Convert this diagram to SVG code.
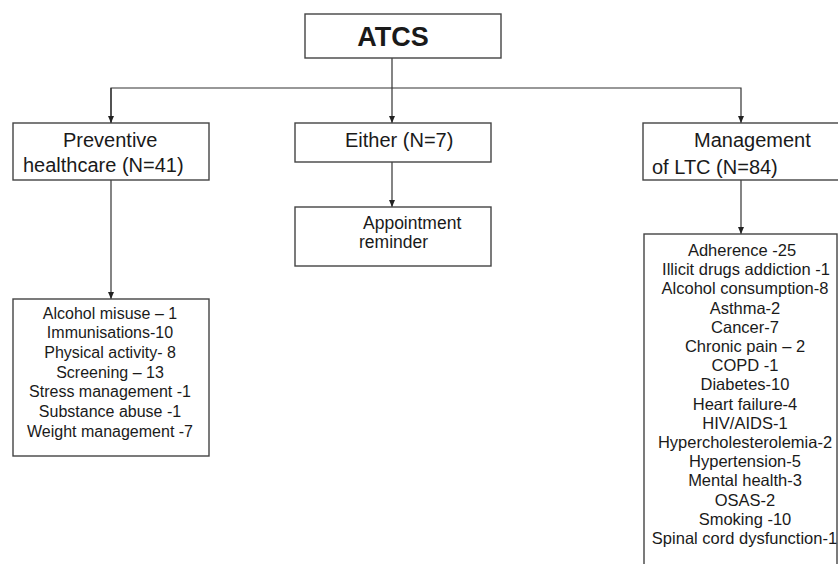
<svg xmlns="http://www.w3.org/2000/svg" width="838" height="564" viewBox="0 0 838 564">
<style>
.box{fill:#fff;stroke:#444;stroke-width:1.4}
.t{font-family:"Liberation Sans",Arial,sans-serif;fill:#1a1a1a}
.h{font-size:20px}
.s{font-size:16px}
.m{font-size:16.5px}
.c{text-anchor:middle}
.ln{stroke:#333;stroke-width:1.2;fill:none}
</style>
<defs>
<marker id="ar" markerWidth="8" markerHeight="8" refX="7" refY="4" orient="auto" markerUnits="userSpaceOnUse">
<path d="M0,1 L7,4 L0,7 Z" fill="#222"/>
</marker>
</defs>
<rect width="838" height="564" fill="#fff"/>
<g id="connectors">
<line class="ln" x1="392" y1="58" x2="392" y2="123" marker-end="url(#ar)"/>
<polyline class="ln" points="111,123 111,88 741,88 741,123" marker-end="url(#ar)"/>
<line class="ln" x1="111" y1="88" x2="111" y2="123" marker-end="url(#ar)"/>
<line class="ln" x1="111" y1="180" x2="111" y2="299" marker-end="url(#ar)"/>
<line class="ln" x1="392" y1="162" x2="392" y2="207" marker-end="url(#ar)"/>
<line class="ln" x1="741" y1="180" x2="741" y2="234" marker-end="url(#ar)"/>
</g>
<g id="atcs">
<rect class="box" x="305" y="14" width="196" height="44"/>
<text class="t c" x="393" y="46" font-size="27" font-weight="bold">ATCS</text>
</g>
<g id="preventive">
<rect class="box" x="13" y="123" width="196" height="57"/>
<text class="t h" x="63" y="147">Preventive</text>
<text class="t h" x="23" y="172">healthcare (N=41)</text>
</g>
<g id="either">
<rect class="box" x="295" y="123" width="196" height="39"/>
<text class="t h" x="345" y="147">Either (N=7)</text>
</g>
<g id="management">
<rect class="box" x="643" y="123" width="200" height="57"/>
<text class="t h" x="694" y="147">Management</text>
<text class="t h" x="652" y="174">of LTC (N=84)</text>
</g>
<g id="appointment">
<rect class="box" x="295" y="207" width="196" height="59"/>
<text class="t" font-size="17.5" x="363" y="229">Appointment</text>
<text class="t" font-size="17.5" x="359" y="248">reminder</text>
</g>
<g id="preventive-list">
<rect class="box" x="13" y="299" width="196" height="157"/>
<text class="t s c" x="110" y="318.5">Alcohol misuse – 1</text>
<text class="t s c" x="110" y="338.2">Immunisations-10</text>
<text class="t s c" x="110" y="357.9">Physical activity- 8</text>
<text class="t s c" x="110" y="377.6">Screening – 13</text>
<text class="t s c" x="110" y="397.3">Stress management -1</text>
<text class="t s c" x="110" y="417">Substance abuse -1</text>
<text class="t s c" x="110" y="436.7">Weight management -7</text>
</g>
<g id="ltc-list">
<rect class="box" x="644" y="234" width="193" height="340"/>
<text class="t m c" x="742" y="256">Adherence -25</text>
<text class="t m c" x="746" y="275.2">Illicit drugs addiction -1</text>
<text class="t m c" x="745" y="294.4">Alcohol consumption-8</text>
<text class="t m c" x="745" y="313.6">Asthma-2</text>
<text class="t m c" x="745" y="332.8">Cancer-7</text>
<text class="t m c" x="745" y="352">Chronic pain – 2</text>
<text class="t m c" x="745" y="371.2">COPD -1</text>
<text class="t m c" x="745" y="390.4">Diabetes-10</text>
<text class="t m c" x="745" y="409.6">Heart failure-4</text>
<text class="t m c" x="745" y="428.8">HIV/AIDS-1</text>
<text class="t m c" x="745" y="448">Hypercholesterolemia-2</text>
<text class="t m c" x="745" y="467.2">Hypertension-5</text>
<text class="t m c" x="745" y="486.4">Mental health-3</text>
<text class="t m c" x="745" y="505.6">OSAS-2</text>
<text class="t m c" x="745" y="524.8">Smoking -10</text>
<text class="t m c" x="744.5" y="544">Spinal cord dysfunction-1</text>
</g>
</svg>
